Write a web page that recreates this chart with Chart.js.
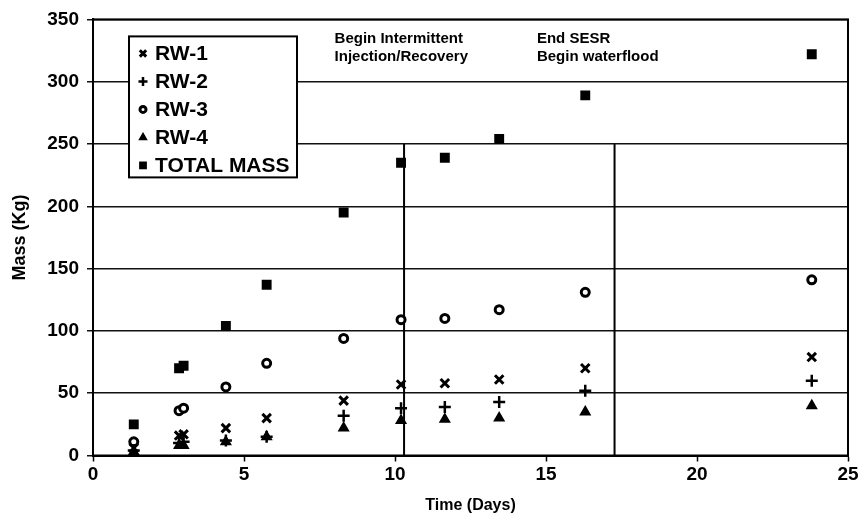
<html><head>
<script src="https://cdn.jsdelivr.net/npm/chart.js"></script>
<style>
  body { margin: 0; background: #fff; }
</style>
</head>
<body>
<canvas id="mass-chart" width="861" height="529"></canvas>
<script>

  // data
  var days = [1.35, 2.85, 3.0, 4.4, 5.75, 8.3, 10.2, 11.65, 13.45, 16.3, 23.8];
  var rw1 = [6, 16, 17, 22, 30, 44, 57, 58, 61, 70, 79];
  var rw2 = [4, 10, 11, 12, 15, 32, 38, 39, 43, 52, 60];
  var rw3 = [11, 36, 38, 55, 74, 94, 109, 110, 117, 131, 141];
  var rw4 = [3, 8, 8, 11, 15, 22, 28, 29, 30, 35, 40];
  var totalMass = [25, 70, 72, 104, 137, 195, 235, 239, 254, 289, 322];

  var eventDays = [10.3, 17.27];
  var eventTop = 250;
  var eventNotes = [["Begin Intermittent", "Injection/Recovery"], ["End SESR", "Begin waterflood"]];

  var seriesNames = ["RW-1", "RW-2", "RW-3", "RW-4", "TOTAL MASS"];
  var xTicks = [0, 5, 10, 15, 20, 25];
  var yTicks = [0, 50, 100, 150, 200, 250, 300, 350];

  function toPoints(values) {
    var pts = [];
    for (var i = 0; i < days.length; i++) {
      pts.push({x: days[i], y: values[i]});
    }
    return pts;
  }

  var markerStyles = [
    {pointStyle: 'crossRot', radius: 6, borderWidth: 3, fill: '#000', legendRadius: 4.5},
    {pointStyle: 'cross', radius: 6, borderWidth: 2.5, fill: '#000', legendRadius: 4.5},
    {pointStyle: 'circle', radius: 4, borderWidth: 3, fill: '#fff', legendRadius: 3},
    {pointStyle: 'triangle', radius: 5.5, borderWidth: 1.5, fill: '#000', legendRadius: 4},
    {pointStyle: 'rect', radius: 7, borderWidth: 0, fill: '#000', legendRadius: 5.5}
  ];
  var allSeries = [rw1, rw2, rw3, rw4, totalMass];

  var datasets = [];
  for (var s = 0; s < allSeries.length; s++) {
    var m = markerStyles[s];
    datasets.push({
      label: seriesNames[s],
      data: toPoints(allSeries[s]),
      showLine: false,
      pointStyle: m.pointStyle,
      pointRadius: m.radius,
      pointBorderWidth: m.borderWidth,
      pointBackgroundColor: m.fill,
      pointBorderColor: '#000'
    });
  }
  for (var e = 0; e < eventDays.length; e++) {
    datasets.push({
      label: 'event',
      data: [{x: eventDays[e], y: 0}, {x: eventDays[e], y: eventTop}],
      showLine: true,
      borderColor: '#000',
      borderWidth: 2,
      pointRadius: 0
    });
  }

  var boldFont = '"Liberation Sans", Arial, sans-serif';

  // frame, notes and the boxed legend inside the plot
  var extrasPlugin = {
    id: 'extras',
    afterDraw: function(chart) {
      var ctx = chart.ctx;
      var a = chart.chartArea;
      var xs = chart.scales.x, ys = chart.scales.y;
      ctx.save();
      ctx.strokeStyle = '#000';
      ctx.lineWidth = 2;
      ctx.strokeRect(a.left, a.top, a.right - a.left, a.bottom - a.top);

      // notes above the event lines
      ctx.fillStyle = '#000';
      ctx.font = 'bold 15px ' + boldFont;
      ctx.textAlign = 'left';
      ctx.textBaseline = 'middle';
      var noteDays = [8.0, 14.7];
      for (var n = 0; n < eventNotes.length; n++) {
        var nx = xs.getPixelForValue(noteDays[n]);
        ctx.fillText(eventNotes[n][0], nx, ys.getPixelForValue(334));
        ctx.fillText(eventNotes[n][1], nx, ys.getPixelForValue(320));
      }

      // legend
      var lx = a.left + 36, ly = a.top + 17, lw = 168, lh = 141;
      ctx.fillStyle = '#fff';
      ctx.fillRect(lx, ly, lw, lh);
      ctx.strokeStyle = '#000';
      ctx.lineWidth = 2;
      ctx.strokeRect(lx, ly, lw, lh);
      ctx.font = 'bold 21px ' + boldFont;
      for (var i = 0; i < seriesNames.length; i++) {
        var ry = ly + 17 + i * 28;
        var ms = markerStyles[i];
        ctx.fillStyle = ms.fill;
        ctx.strokeStyle = '#000';
        ctx.lineWidth = ms.borderWidth;
        Chart.helpers.drawPoint(ctx, {
          pointStyle: ms.pointStyle,
          radius: ms.legendRadius,
          borderWidth: ms.borderWidth,
          rotation: 0
        }, lx + 14, ry);
        ctx.fillStyle = '#000';
        ctx.fillText(seriesNames[i], lx + 26, ry + 1);
      }
      ctx.restore();
    }
  };

  new Chart(document.getElementById('mass-chart'), {
    type: 'scatter',
    data: { datasets: datasets },
    plugins: [extrasPlugin],
    options: {
      responsive: false,
      animation: false,
      layout: { padding: { left: 0, right: 13, top: 19, bottom: 0 } },
      plugins: {
        legend: { display: false },
        tooltip: { enabled: false }
      },
      scales: {
        x: {
          type: 'linear',
          min: 0,
          max: 25,
          afterFit: function(scale) { scale.height = 73.5; },
          afterBuildTicks: function(scale) {
            scale.ticks = xTicks.map(function(v) { return {value: v}; });
          },
          ticks: {
            color: '#000',
            padding: 2,
            font: { family: boldFont, size: 19, weight: 'bold' }
          },
          grid: {
            drawOnChartArea: false,
            color: '#000',
            tickLength: 6,
            tickWidth: 1.5
          },
          border: { display: true, color: '#000', width: 2 },
          title: {
            display: true,
            text: 'Time (Days)',
            color: '#000',
            font: { family: boldFont, size: 16, weight: 'bold' },
            padding: { top: 0, bottom: 14 }
          }
        },
        y: {
          min: 0,
          max: 350,
          afterFit: function(scale) { scale.width = 93; },
          afterBuildTicks: function(scale) {
            scale.ticks = yTicks.map(function(v) { return {value: v}; });
          },
          ticks: {
            color: '#000',
            padding: 8,
            font: { family: boldFont, size: 19, weight: 'bold' }
          },
          grid: {
            color: '#111',
            lineWidth: 1.5,
            tickLength: 6,
            tickWidth: 1.5
          },
          border: { display: true, color: '#000', width: 2 },
          title: {
            display: true,
            text: 'Mass (Kg)',
            color: '#000',
            font: { family: boldFont, size: 18, weight: 'bold' },
            padding: { top: 9, bottom: 0 }
          }
        }
      }
    }
  });
</script>
</body>
</html>
